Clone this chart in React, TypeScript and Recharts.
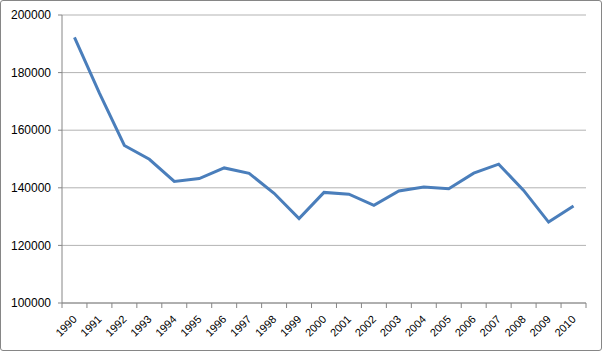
import React from "react";
import { CartesianGrid, Line, LineChart, XAxis, YAxis } from "recharts";

const years = [
  "1990", "1991", "1992", "1993", "1994", "1995", "1996", "1997", "1998", "1999", "2000",
  "2001", "2002", "2003", "2004", "2005", "2006", "2007", "2008", "2009", "2010",
];
const emissions = [
  192200, 172900, 154700, 149900, 142200, 143200, 146900, 145000, 138100, 129300, 138400,
  137800, 133900, 138900, 140300, 139700, 145100, 148200, 139100, 128100, 133700,
];
const yTicks = [100000, 120000, 140000, 160000, 180000, 200000];

const data = years.map((year, i) => ({ year, value: emissions[i] }));

const W = 602;
const H = 351;
const PLOT_LEFT = 62;
const PLOT_RIGHT = 16;
const BAND = (W - PLOT_LEFT - PLOT_RIGHT) / years.length;
const FONT = "'Liberation Sans', Arial, sans-serif";

// Excel-style category tick: marks sit between categories, label rotated 45deg
const YearTick = (props: any) => {
  const { x, y, payload, index } = props;
  const last = index === years.length - 1;
  return (
    <g>
      <line x1={x - BAND / 2} x2={x - BAND / 2} y1={y} y2={y + 5} stroke="#868686" />
      {last && <line x1={x + BAND / 2} x2={x + BAND / 2} y1={y} y2={y + 5} stroke="#868686" />}
      <text
        x={x + 3}
        y={y + 17}
        transform={`rotate(-45, ${x + 3}, ${y + 17})`}
        textAnchor="end"
        fontSize={11}
        fontFamily={FONT}
        fill="#000"
      >
        {payload.value}
      </text>
    </g>
  );
};

export default function App() {
  return (
    <div style={{ position: "absolute", left: 0, top: 0, width: W, height: H }}>
      <LineChart
        width={W}
        height={H}
        data={data}
        margin={{ top: 15, right: PLOT_RIGHT, left: 0, bottom: 0 }}
      >
        <CartesianGrid vertical={false} stroke="#b3b3b3" />
        <XAxis
          dataKey="year"
          height={48}
          interval={0}
          padding={{ left: BAND / 2, right: BAND / 2 }}
          tickLine={false}
          tickSize={0}
          tickMargin={0}
          axisLine={{ stroke: "#868686" }}
          tick={<YearTick />}
        />
        <YAxis
          width={PLOT_LEFT}
          domain={[100000, 200000]}
          ticks={yTicks}
          interval={0}
          tickSize={4}
          tickMargin={7}
          tickLine={{ stroke: "#868686" }}
          axisLine={{ stroke: "#868686" }}
          tick={{ fontSize: 12, fontFamily: FONT, fill: "#000" }}
        />
        <Line
          type="linear"
          dataKey="value"
          stroke="#4a7ebb"
          strokeWidth={3}
          dot={false}
          isAnimationActive={false}
        />
      </LineChart>
      <div
        style={{
          position: "absolute",
          left: 0,
          top: 0,
          width: W,
          height: H,
          boxSizing: "border-box",
          border: "1px solid #868686",
          borderRadius: 3,
          pointerEvents: "none",
        }}
      />
    </div>
  );
}
